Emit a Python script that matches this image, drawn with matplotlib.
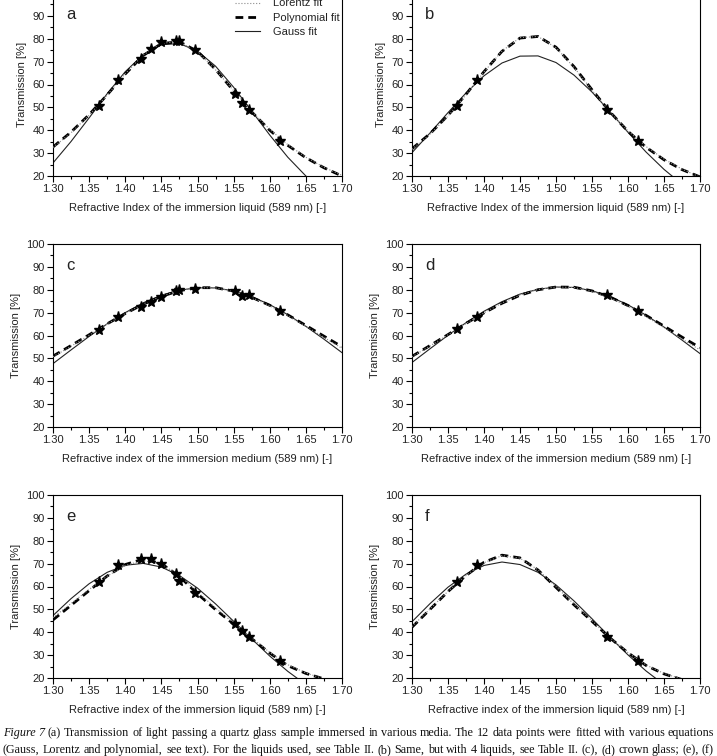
import matplotlib
matplotlib.use('Agg')
import matplotlib.pyplot as plt
from matplotlib.lines import Line2D
from matplotlib.ticker import MultipleLocator, FormatStrFormatter, FixedLocator

plt.rcParams['font.family'] = ['Liberation Sans', 'DejaVu Sans']

# refractive index grid the fit curves were read on
n_grid = [1.300, 1.325, 1.350, 1.375, 1.400, 1.425, 1.450, 1.475, 1.500,
          1.525, 1.550, 1.575, 1.600, 1.625, 1.650, 1.675, 1.700]

# immersion liquids (12) and the reduced set (4)
n_liq12 = [1.363, 1.390, 1.422, 1.435, 1.450, 1.470, 1.475, 1.497, 1.552, 1.562, 1.571, 1.614]
n_liq4 = [1.363, 1.390, 1.571, 1.614]

# measured transmission [%]
a_T = [50.6, 61.8, 71.0, 75.7, 78.4, 79.0, 78.9, 75.2, 55.7, 51.9, 48.7, 35.3]
b_T = [50.6, 62.1, 48.7, 35.3]
c_T = [62.6, 67.9, 72.6, 74.8, 76.9, 79.6, 79.9, 80.3, 79.4, 77.2, 77.6, 70.7]
d_T = [62.8, 67.9, 77.7, 70.7]
e_T = [62.0, 69.3, 71.9, 72.1, 69.7, 65.5, 62.2, 57.0, 43.5, 40.6, 38.0, 27.3]
f_T = [62.0, 69.3, 38.0, 27.3]

# fit curves at n_grid
a_lor = [32.5, 38.9, 46.6, 55.4, 64.7, 72.9, 78.1, 78.6, 74.2, 66.4, 57.3, 48.3, 40.4, 33.7, 28.2, 23.8, 20.3]
a_poly = [32.7, 39.2, 46.8, 55.5, 64.6, 72.7, 77.9, 78.7, 74.5, 66.6, 57.2, 48.0, 40.0, 33.4, 28.0, 23.6, 20.0]
a_gauss = [25.7, 35.1, 45.4, 56.0, 65.6, 73.1, 77.4, 77.9, 74.6, 68.0, 58.8, 48.4, 37.9, 28.2, 20.0, 13.4, 8.6]

b_lor = [31.7, 38.2, 46.2, 55.5, 65.5, 74.6, 80.5, 81.0, 76.1, 67.5, 57.5, 48.0, 39.7, 32.9, 27.4, 23.0, 19.5]
b_poly = [31.9, 38.5, 46.5, 55.7, 65.6, 74.5, 80.3, 81.0, 76.3, 67.8, 57.7, 48.0, 39.5, 32.6, 27.1, 22.8, 19.6]
b_gauss = [30.2, 38.8, 47.7, 56.3, 63.8, 69.4, 72.4, 72.5, 69.6, 64.1, 56.7, 48.1, 39.1, 30.5, 22.9, 16.4, 11.3]

c_lor = [50.7, 55.3, 60.1, 65.0, 69.6, 73.8, 77.2, 79.7, 80.9, 80.8, 79.3, 76.6, 73.0, 68.7, 64.0, 59.2, 54.4]
c_poly = [51.0, 55.6, 60.3, 65.1, 69.6, 73.7, 77.1, 79.6, 80.9, 80.9, 79.4, 76.7, 73.2, 69.0, 64.4, 59.7, 55.1]
c_gauss = [47.7, 53.7, 59.6, 65.1, 70.0, 74.3, 77.6, 79.8, 80.9, 80.8, 79.5, 77.0, 73.5, 69.1, 64.0, 58.4, 52.5]

d_lor = [50.7, 55.4, 60.3, 65.2, 69.9, 74.2, 77.7, 80.1, 81.2, 81.0, 79.3, 76.5, 72.7, 68.3, 63.5, 58.5, 53.7]
d_poly = [50.9, 55.6, 60.4, 65.3, 69.9, 74.1, 77.6, 80.0, 81.2, 81.1, 79.5, 76.8, 73.1, 68.8, 64.1, 59.3, 54.7]
d_gauss = [48.2, 54.2, 60.1, 65.6, 70.6, 74.8, 78.1, 80.2, 81.2, 81.0, 79.6, 77.0, 73.4, 68.9, 63.7, 58.0, 52.1]

e_lor = [46.4, 52.6, 58.7, 64.5, 69.2, 71.4, 69.8, 64.8, 57.6, 50.6, 44.0, 37.5, 31.2, 25.8, 22.2, 19.6, 17.6]
e_poly = [45.4, 51.8, 58.2, 64.6, 69.6, 72.0, 70.0, 64.4, 56.8, 49.9, 43.6, 37.2, 30.9, 25.4, 22.0, 19.6, 17.8]
e_gauss = [47.3, 54.7, 61.2, 66.2, 69.3, 70.1, 68.5, 64.8, 59.3, 52.4, 44.8, 37.1, 29.6, 22.9, 17.1, 12.4, 8.7]

f_lor = [42.5, 50.2, 57.9, 64.8, 70.4, 73.5, 72.4, 67.3, 59.9, 52.3, 45.0, 37.6, 31.1, 25.7, 22.0, 19.5, 17.6]
f_poly = [42.2, 50.0, 57.8, 64.8, 70.6, 73.7, 72.5, 67.2, 59.6, 52.0, 44.8, 37.5, 31.0, 25.5, 21.8, 19.3, 17.5]
f_gauss = [44.6, 52.5, 59.7, 65.4, 69.2, 70.7, 69.6, 66.2, 60.7, 53.7, 45.9, 37.8, 30.1, 23.1, 17.1, 12.0, 8.2]

xlab_liq_I = 'Refractive Index of the immersion liquid (589 nm) [-]'
xlab_med = 'Refractive index of the immersion medium (589 nm) [-]'
xlab_liq = 'Refractive index of the immersion liquid (589 nm) [-]'

caption1 = ['(a)', 'Transmission', 'of', 'light', 'passing', 'a', 'quartz', 'glass', 'sample',
            'immersed', 'in', 'various', 'media.', 'The', '12', 'data', 'points', 'were', 'fitted',
            'with', 'various', 'equations']
caption2 = ['(Gauss,', 'Lorentz', 'and', 'polynomial,', 'see', 'text).', 'For', 'the', 'liquids',
            'used,', 'see', 'Table', 'II.', '(b)', 'Same,', 'but', 'with', '4', 'liquids,', 'see',
            'Table', 'II.', '(c),', '(d)', 'crown', 'glass;', '(e),', '(f)']

W, H = 717, 756
fig = plt.figure(figsize=(W / 100, H / 100), dpi=100)

# panel boxes in pixels: left, top, right, bottom
panels = [
    ('a', (53, -7, 342, 176), n_liq12, a_T, a_lor, a_poly, a_gauss, xlab_liq_I),
    ('b', (412, -7, 700, 176), n_liq4, b_T, b_lor, b_poly, b_gauss, xlab_liq_I),
    ('c', (53, 244, 342, 427), n_liq12, c_T, c_lor, c_poly, c_gauss, xlab_med),
    ('d', (412, 244, 700, 427), n_liq4, d_T, d_lor, d_poly, d_gauss, xlab_med),
    ('e', (53, 495, 342, 678), n_liq12, e_T, e_lor, e_poly, e_gauss, xlab_liq),
    ('f', (412, 495, 700, 678), n_liq4, f_T, f_lor, f_poly, f_gauss, xlab_liq),
]

txt_col = '#222222'
for letter, (l, t, r, b), nx, T, lor, poly, gauss, xlab in panels:
    ax = fig.add_axes([l / W, 1 - b / H, (r - l) / W, (b - t) / H])
    ax.plot(n_grid, gauss, color='#222222', lw=0.8, zorder=2)
    ax.plot(n_grid, poly, color='black', lw=2.0, dashes=(2.8, 1.8), zorder=3)
    ax.plot(n_grid, lor, color='0.55', lw=0.8, ls=':', zorder=4)
    ax.plot(nx, T, '*', color='black', ms=8, zorder=5)
    ax.set_xlim(1.30, 1.70)
    ax.set_ylim(20, 100)
    ax.xaxis.set_major_locator(MultipleLocator(0.05))
    ax.xaxis.set_minor_locator(MultipleLocator(0.025))
    ax.xaxis.set_major_formatter(FormatStrFormatter('%.2f'))
    if t < 0:
        # the page is cropped just above the 90 line; the 100 label is off the page
        ax.yaxis.set_major_locator(FixedLocator([20, 30, 40, 50, 60, 70, 80, 90]))
    else:
        ax.yaxis.set_major_locator(MultipleLocator(10))
    ax.yaxis.set_minor_locator(MultipleLocator(5))
    ax.tick_params(which='both', direction='out', top=False, right=False,
                   labelsize=8, labelcolor=txt_col, width=0.8, pad=2)
    ax.tick_params(which='major', length=4)
    ax.tick_params(which='minor', length=2)
    for sp in ax.spines.values():
        sp.set_linewidth(0.8)
    ax.set_xlabel(xlab, fontsize=8, color=txt_col, labelpad=6)
    ax.set_ylabel('Transmission [%]', fontsize=8, color=txt_col, labelpad=4)
    ax.text(1.318, 90.5, letter, fontsize=12, color=txt_col, ha='left', va='center')
    if letter == 'a':
        handles = [Line2D([], [], color='0.55', lw=0.8, ls=':'),
                   Line2D([], [], color='black', lw=2.0, dashes=(2.8, 1.8)),
                   Line2D([], [], color='#222222', lw=0.8)]
        ax.legend(handles, ['Lorentz fit', 'Polynomial fit', 'Gauss fit'],
                  loc='upper left', bbox_to_anchor=(0.63, 0.97), frameon=False,
                  fontsize=8, handlelength=2.2, handletextpad=1.2,
                  labelspacing=0.4, borderpad=0, borderaxespad=0,
                  labelcolor=txt_col)

# justified caption, two lines, the second cut at the page edge
renderer = fig.canvas.get_renderer()
serif = ['Liberation Serif', 'DejaVu Serif']


def word_objs(words, y_px, size, italic_words=0):
    objs = []
    for i, w in enumerate(words):
        st = 'italic' if i < italic_words else 'normal'
        objs.append(fig.text(0, 1 - y_px / H, w, fontsize=size, style=st, family=serif,
                             color='#111111', va='center', ha='left'))
    return objs


def justify(objs, x0_px, x1_px):
    widths = [o.get_window_extent(renderer).width for o in objs]
    gap = (x1_px - x0_px - sum(widths)) / (len(objs) - 1)
    x = x0_px
    for o, w in zip(objs, widths):
        o.set_x(x / W)
        x += w + gap


line1 = ['Figure', '7'] + caption1
# pick a size so that line 1 fills the page width with ordinary word spaces
probe = word_objs(line1, 733, 10)
natural = sum(o.get_window_extent(renderer).width for o in probe) + (len(probe) - 1) * 0.25 * 10 * 100 / 72
for o in probe:
    o.remove()
cap_size = 10 * 711 / natural

justify(word_objs(line1, 733, cap_size, italic_words=2), 3, 714)
justify(word_objs(caption2, 750, cap_size), 3, 714)

fig.savefig('out.png', dpi=100)
